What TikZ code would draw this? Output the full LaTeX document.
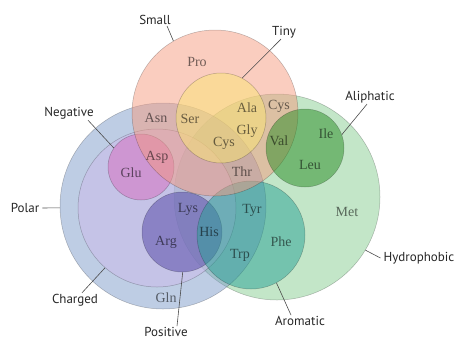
\documentclass[tikz,border=0pt]{standalone}
\usepackage{fontspec}
\setmainfont{Liberation Serif}
\newfontfamily\labelfont{PT Sans}
\definecolor{cHyd}{RGB}{135,205,145}
\definecolor{cPol}{RGB}{125,155,201}
\definecolor{cCha}{RGB}{205,185,235}
\definecolor{cNeg}{RGB}{215,105,190}
\definecolor{cPos}{RGB}{80,68,165}
\definecolor{cAro}{RGB}{40,160,150}
\definecolor{cSma}{RGB}{245,155,128}
\definecolor{cTin}{RGB}{250,230,115}
\definecolor{cAli}{RGB}{40,140,35}
\begin{document}
\begin{tikzpicture}[x=1pt,y=-1pt,
  circ/.style={circle, inner sep=0pt, fill opacity=0.5, draw=black, draw opacity=0.25, line width=0.5pt},
  aa/.style={font=\fontsize{14}{14}\selectfont, text=black, text opacity=0.55, inner sep=0pt},
  cat/.style={font=\labelfont\fontsize{13}{13}\selectfont, text=black!85, inner sep=1pt},
  conn/.style={draw=black!70, line width=0.6pt}]
\useasboundingbox (0,0) rectangle (457,341);
% circles
\node[circ, fill=cHyd, minimum size=206pt] (hyd) at (277,197) {};
\node[circ, fill=cPol, minimum size=206pt] (pol) at (163,206) {};
\node[circ, fill=cCha, minimum size=158pt] (cha) at (157,208) {};
\node[circ, fill=cNeg, minimum size=66pt] (neg) at (141,167) {};
\node[circ, fill=cPos, minimum size=80pt] (pos) at (182,232) {};
\node[circ, fill=cAro, minimum size=108pt] (aro) at (251,235) {};
\node[circ, fill=cSma, minimum size=166pt] (sma) at (215,113) {};
\node[circ, fill=cTin, minimum size=90pt] (tin) at (221,118) {};
\node[circ, fill=cAli, minimum size=78pt] (ali) at (305,148) {};
% amino acids
\node[aa] (pro) at (197,62) {Pro};
\node[aa] (asn) at (156,118) {Asn};
\node[aa] (ser) at (190,119) {Ser};
\node[aa] (ala) at (247,108) {Ala};
\node[aa] (gly) at (247,131) {Gly};
\node[aa] (cys1) at (279,106) {Cys};
\node[aa] (cys2) at (224,143) {Cys};
\node[aa] (val) at (279,141) {Val};
\node[aa] (ile) at (326,134) {Ile};
\node[aa] (leu) at (310,165) {Leu};
\node[aa] (asp) at (157,157) {Asp};
\node[aa] (glu) at (131,173) {Glu};
\node[aa] (thr) at (242,172) {Thr};
\node[aa] (lys) at (188,209) {Lys};
\node[aa] (his) at (209,232) {His};
\node[aa] (arg) at (166,242) {Arg};
\node[aa] (tyr) at (252,210) {Tyr};
\node[aa] (trp) at (240,255) {Trp};
\node[aa] (phe) at (281,242) {Phe};
\node[aa] (met) at (347,212) {Met};
\node[aa] (gln) at (166,298) {Gln};
% category labels
\node[cat] (lsma) at (155,20) {Small};
\node[cat] (ltin) at (284,32) {Tiny};
\node[cat] (lali) at (370,97) {Aliphatic};
\node[cat] (lneg) at (69,113) {Negative};
\node[cat] (lpol) at (25,208) {Polar};
\node[cat] (lcha) at (75,300) {Charged};
\node[cat] (lpos) at (166,332) {Positive};
\node[cat] (laro) at (300,321) {Aromatic};
\node[cat] (lhyd) at (419,258) {Hydrophobic};
% connectors
\draw[conn] ([xshift=12pt]lsma.south) -- (sma.120);
\draw[conn] ([xshift=-3pt]ltin.south) -- (tin.62);
\draw[conn] ([xshift=-3pt]lali.south) -- (ali.20);
\draw[conn] ([xshift=19pt]lneg.south) -- (neg.145);
\draw[conn] ([xshift=2pt]lpol.east) -- (pol.181);
\draw[conn] ([xshift=7pt]lcha.north) -- (cha.229);
\draw[conn] ([xshift=11pt]lpos.north) -- (pos.-89);
\draw[conn] ([xshift=-9pt]laro.north) -- (aro.-62);
\draw[conn] ([xshift=-2pt]lhyd.west) -- (hyd.-31);
\end{tikzpicture}
\end{document}
